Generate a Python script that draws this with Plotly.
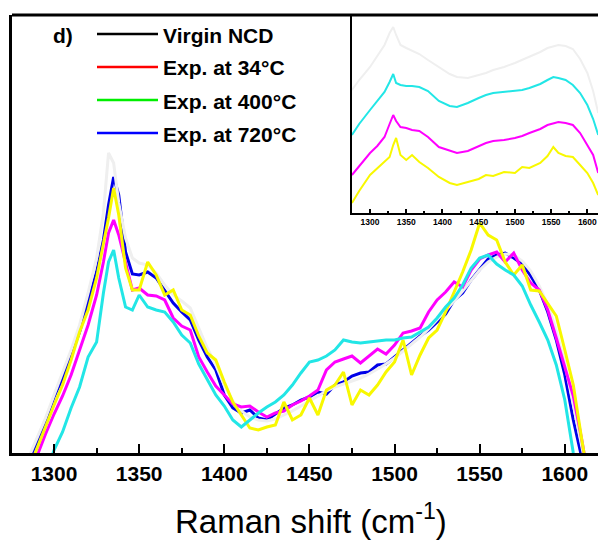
import plotly.graph_objects as go

# ---------------- main spectra (Raman shift, cm^-1) ----------------
shift = [1285, 1290, 1295, 1300, 1305, 1310, 1315, 1320, 1325, 1329, 1332, 1335, 1338,
         1342, 1346, 1350, 1355, 1360, 1365, 1370, 1375, 1380, 1385, 1390, 1395, 1400,
         1405, 1410, 1415, 1420, 1425, 1430, 1435, 1440, 1445, 1450, 1455, 1460, 1465,
         1470, 1475, 1480, 1485, 1490, 1495, 1500, 1505, 1510, 1515, 1520, 1525, 1530,
         1535, 1540, 1545, 1550, 1555, 1560, 1565, 1570, 1575, 1580, 1585, 1590, 1595,
         1600, 1605, 1610, 1615]

virgin = [-5, 15, 35, 58, 80, 103, 128, 160, 195, 240, 300, 290, 250,
          215, 195, 190, 188, 180, 168, 158, 152, 145, 125, 105, 88, 68,
          52, 42, 36, 33, 32, 34, 38, 42, 47, 52, 57, 62, 66,
          69, 72, 75, 79, 84, 89, 95, 102, 109, 116, 124, 133, 142,
          152, 162, 173, 183, 191, 196, 199, 198, 192, 182, 167, 148, 122,
          90, 48, 5, -35]

blue_720 = [-9, 12, 32, 56, 75, 98, 121, 151, 181, 213, 248, 276, 258,
            201, 179, 178, 181, 175, 163, 150, 141, 133, 113, 96, 83, 58,
            45, 40, 43, 35, 33, 39, 45, 48, 53, 56, 61, 59, 68,
            71, 77, 80, 81, 88, 89, 96, 103, 110, 117, 123, 131, 139,
            153, 160, 173, 183, 194, 198, 200, 195, 189, 177, 163, 141, 113,
            78, 33, -5, -37]

magenta = [-25, -2, 19, 39, 57, 78, 103, 128, 158, 191, 220, 233, 218,
           191, 163, 165, 158, 157, 153, 135, 127, 123, 96, 81, 67, 58,
           49, 46, 47, 41, 36, 40, 42, 48, 52, 57, 63, 83, 91,
           94, 97, 90, 97, 104, 99, 108, 120, 122, 125, 141, 153, 161,
           171, 166, 183, 194, 198, 201, 191, 200, 183, 170, 163, 143, 115,
           85, 57, 13, -37]

yellow = [-17, 5, 28, 48, 68, 93, 121, 143, 175, 208, 235, 265, 238,
          185, 163, 163, 191, 178, 158, 163, 143, 138, 117, 100, 93, 71,
          51, 38, 25, 23, 26, 28, 51, 33, 38, 55, 38, 63, 68,
          81, 48, 63, 58, 68, 81, 91, 113, 78, 98, 115, 123, 141,
          161, 181, 203, 230, 218, 213, 191, 178, 188, 163, 162, 150, 137,
          103, 68, 13, -37]

cyan = [-67, -47, -22, 3, 21, 45, 66, 96, 111, 160, 191, 203, 175,
        146, 143, 158, 146, 143, 141, 131, 118, 110, 89, 73, 58, 47,
        33, 26, 33, 40, 46, 51, 58, 68, 80, 91, 93, 97, 103,
        113, 111, 110, 111, 112, 113, 113, 115, 116, 121, 126, 135, 146,
        155, 168, 185, 195, 198, 189, 183, 178, 167, 148, 131, 113, 88,
        53, 0, -47, -87]

# ---------------- inset (offset spectra) ----------------
inset_shift = [1275, 1285, 1300, 1310, 1320, 1327, 1332, 1336, 1342, 1350, 1358, 1368,
               1380, 1395, 1410, 1420, 1435, 1450, 1460, 1470, 1485, 1500, 1510, 1520,
               1535, 1545, 1553, 1560, 1570, 1580, 1590, 1600, 1608, 1615]

inset_virgin = [123, 133, 146, 157, 168, 180, 186, 178, 168, 165, 162, 159,
                153, 146, 139, 136, 135, 138, 140, 143, 146, 150, 153, 156,
                161, 165, 167, 168, 167, 164, 154, 140, 122, 100]
inset_cyan = [78, 89, 103, 112, 121, 131, 139, 130, 128, 127, 127, 126,
              122, 112, 107, 106, 110, 115, 118, 120, 121, 122, 123, 125,
              129, 133, 136, 135, 133, 128, 120, 108, 94, 78]
inset_magenta = [38, 47, 60, 67, 76, 89, 98, 92, 86, 85, 83, 82,
                 76, 66, 62, 60, 62, 67, 70, 72, 73, 75, 77, 80,
                 84, 88, 90, 91, 90, 88, 80, 68, 58, 40]
inset_yellow = [10, 22, 38, 45, 52, 56, 68, 75, 58, 53, 58, 51,
                45, 36, 30, 28, 31, 34, 38, 37, 41, 40, 46, 45,
                50, 57, 66, 60, 57, 56, 48, 40, 30, 18]

# ---------------- legend ----------------
legend_names = ["Virgin NCD", "Exp. at 34°C", "Exp. at 400°C", "Exp. at 720°C"]
legend_colors = ["#000000", "#ff0000", "#00ee00", "#0000ff"]
panel_label = "d)"

GRAY = "#efefef"
MAGENTA = "#ff00ff"
YELLOW = "#f8f800"
CYAN = "#22e6e6"
BLUE = "#0000e8"

W, H = 598, 542
FONT = "Liberation Sans, Arial, sans-serif"


def px_x(p):
    return p / W


def px_y(p):
    return (H - p) / H


fig = go.Figure()

main_series = [
    (blue_720, BLUE),
    (virgin, GRAY),
    (magenta, MAGENTA),
    (yellow, YELLOW),
    (cyan, CYAN),
]
for vals, col in main_series:
    fig.add_trace(go.Scatter(x=shift, y=vals, mode="lines",
                             line=dict(color=col, width=3),
                             showlegend=False, hoverinfo="skip",
                             xaxis="x", yaxis="y"))

inset_series = [
    (inset_virgin, GRAY),
    (inset_cyan, CYAN),
    (inset_magenta, MAGENTA),
    (inset_yellow, YELLOW),
]
for vals, col in inset_series:
    fig.add_trace(go.Scatter(x=inset_shift, y=vals, mode="lines",
                             line=dict(color=col, width=2),
                             showlegend=False, hoverinfo="skip",
                             xaxis="x2", yaxis="y2"))

main_top = px_y(15)

fig.update_layout(
    width=W, height=H,
    margin=dict(l=0, r=0, t=0, b=0),
    paper_bgcolor="white",
    plot_bgcolor="white",
    showlegend=False,
    font=dict(family=FONT, color="black"),
    xaxis=dict(
        domain=[px_x(12), 1.0], range=[1275.3, 1619.5],
        showline=True, linecolor="black", linewidth=3,
        ticks="inside", ticklen=9, tickwidth=2, tickcolor="black",
        tick0=1300, dtick=50,
        minor=dict(ticks="inside", ticklen=5, tickwidth=2, tickcolor="black",
                   tick0=1275, dtick=25),
        tickfont=dict(size=21, family=FONT, weight="bold", color="black"),
        showgrid=False, zeroline=False, anchor="y",
    ),
    yaxis=dict(
        domain=[px_y(453), main_top], range=[0, 438],
        showline=True, linecolor="black", linewidth=3,
        showticklabels=False, ticks="", showgrid=False, zeroline=False,
        anchor="x",
    ),
    xaxis2=dict(
        domain=[px_x(352), 1.0], range=[1275.1, 1614.7],
        showline=True, linecolor="black", linewidth=2,
        ticks="inside", ticklen=4, tickwidth=1.5, tickcolor="black",
        tick0=1300, dtick=50,
        minor=dict(ticks="inside", ticklen=2, tickwidth=1.5, tickcolor="black",
                   tick0=1275, dtick=25),
        tickfont=dict(size=8.5, family=FONT, weight="bold", color="black"),
        showgrid=False, zeroline=False, anchor="y2",
    ),
    yaxis2=dict(
        domain=[px_y(213), main_top], range=[0, 198],
        showline=True, linecolor="black", linewidth=2,
        showticklabels=False, ticks="", showgrid=False, zeroline=False,
        anchor="x2",
    ),
)

# top frame line of the main panel
fig.add_shape(type="line", xref="paper", yref="paper",
              x0=px_x(12), x1=1.0, y0=main_top, y1=main_top,
              line=dict(color="black", width=3))

# axis title
fig.add_annotation(text="Raman shift (cm<sup>-1</sup>)", xref="paper", yref="paper",
                   x=px_x(311), y=px_y(519), xanchor="center", yanchor="middle",
                   showarrow=False, font=dict(size=33, family=FONT, color="black"))

# panel label
fig.add_annotation(text="<b>%s</b>" % panel_label, xref="paper", yref="paper",
                   x=px_x(51), y=px_y(35), xanchor="left", yanchor="middle",
                   showarrow=False, font=dict(size=21, family=FONT, color="black"))

# legend: line samples + labels
row_y = [34, 67, 100, 133]
for name, col, ry in zip(legend_names, legend_colors, row_y):
    fig.add_shape(type="line", xref="paper", yref="paper",
                  x0=px_x(97), x1=px_x(158), y0=px_y(ry), y1=px_y(ry),
                  line=dict(color=col, width=2.5))
    fig.add_annotation(text="<b>%s</b>" % name, xref="paper", yref="paper",
                       x=px_x(161), y=px_y(ry + 1), xanchor="left", yanchor="middle",
                       showarrow=False, font=dict(size=21, family=FONT, color="black"))

fig.write_html("out.html")
